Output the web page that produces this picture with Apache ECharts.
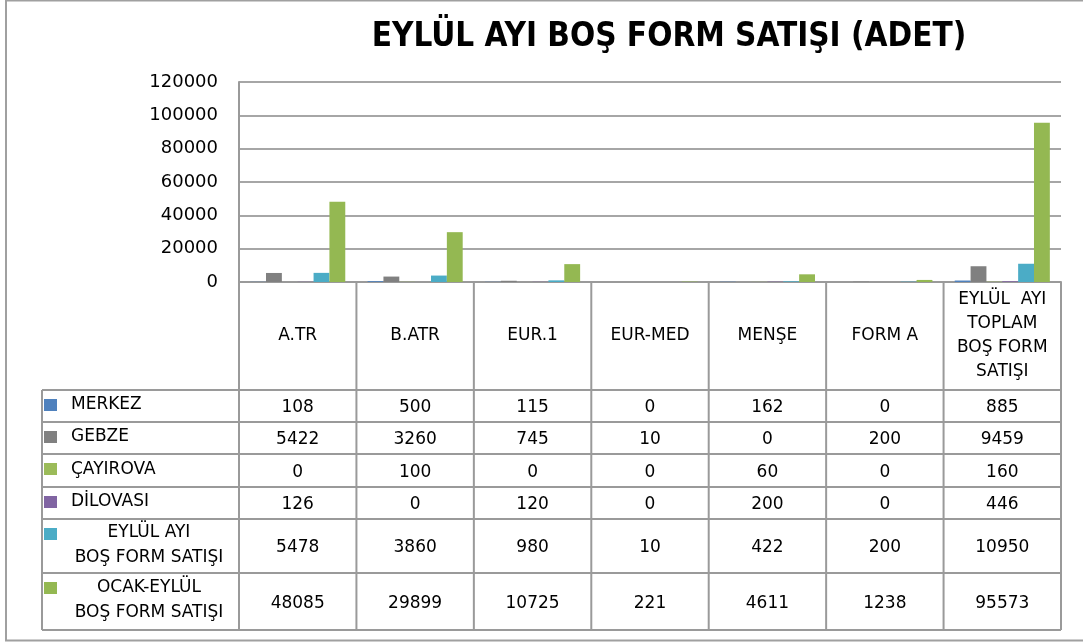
<!DOCTYPE html>
<html>
<head>
<meta charset="utf-8">
<script src="https://cdn.jsdelivr.net/npm/echarts@6/dist/echarts.min.js"></script>
<style>
html,body{margin:0;padding:0;background:#fff;}
#chart{width:1083px;height:643px;}
</style>
</head>
<body>
<div id="chart"></div>
<script>
// ---- data ----
var title = 'EYLÜL AYI BOŞ FORM SATIŞI (ADET)';
var categories = ['A.TR', 'B.ATR', 'EUR.1', 'EUR-MED', 'MENŞE', 'FORM A', 'EYLÜL  AYI\nTOPLAM\nBOŞ FORM\nSATIŞI'];
var seriesNames = ['MERKEZ', 'GEBZE', 'ÇAYIROVA', 'DİLOVASI', 'EYLÜL AYI\nBOŞ FORM SATIŞI', 'OCAK-EYLÜL\nBOŞ FORM SATIŞI'];
var merkez    = [108, 500, 115, 0, 162, 0, 885];
var gebze     = [5422, 3260, 745, 10, 0, 200, 9459];
var cayirova  = [0, 100, 0, 0, 60, 0, 160];
var dilovasi  = [126, 0, 120, 0, 200, 0, 446];
var eylulAyi  = [5478, 3860, 980, 10, 422, 200, 10950];
var ocakEylul = [48085, 29899, 10725, 221, 4611, 1238, 95573];
var yTicks = [0, 20000, 40000, 60000, 80000, 100000, 120000];

// ---- style / layout ----
var colors = ['#4F81BD', '#808080', '#9BBB59', '#8064A2', '#4BACC6', '#94B852'];
var seriesValues = [merkez, gebze, cayirova, dilovasi, eylulAyi, ocakEylul];
var FONT = '"DejaVu Sans", Verdana, sans-serif';
var gridL = 239, gridR = 1061, gridT = 82, gridB = 282;
var tableL = 42;
var rowEdges = [390, 422, 454, 487, 519, 573, 630];
var lineColor = '#9a9a9a';

(function () {
  var chart = echarts.init(document.getElementById('chart'), null, {renderer: 'canvas'});
  var children = [];
  children.push({type: 'rect', shape: {x: 6, y: 0.5, width: 1100, height: 640}, style: {fill: null, stroke: '#a0a0a0', lineWidth: 2}, silent: true});

  var nCat = categories.length;
  var colW = (gridR - gridL) / nCat;
  var lastY = rowEdges[rowEdges.length - 1];
  for (var c = 0; c <= nCat; c++) {
    var lx = gridL + c * colW;
    children.push({type: 'line', shape: {x1: lx, y1: gridB, x2: lx, y2: lastY}, style: {stroke: lineColor, lineWidth: 2}, silent: true});
  }
  children.push({type: 'line', shape: {x1: tableL, y1: rowEdges[0], x2: tableL, y2: lastY}, style: {stroke: lineColor, lineWidth: 2}, silent: true});
  for (var r = 0; r < rowEdges.length; r++) {
    children.push({type: 'line', shape: {x1: tableL, y1: rowEdges[r], x2: gridR, y2: rowEdges[r]}, style: {stroke: lineColor, lineWidth: 2}, silent: true});
  }
  for (var s = 0; s < seriesNames.length; s++) {
    var rowTop = rowEdges[s], rowBot = rowEdges[s + 1], rowMid = (rowTop + rowBot) / 2;
    var twoLine = seriesNames[s].indexOf('\n') >= 0;
    children.push({type: 'rect', shape: {x: 44, y: rowTop + 9, width: 13, height: 12}, style: {fill: colors[s]}, silent: true});
    if (twoLine) {
      children.push({type: 'text', x: 149, y: rowMid - 1, style: {text: seriesNames[s], align: 'center', verticalAlign: 'middle', fontSize: 17, fontFamily: FONT, lineHeight: 25, fill: '#000'}, silent: true});
    } else {
      children.push({type: 'text', x: 71, y: rowMid - 1, style: {text: seriesNames[s], align: 'left', verticalAlign: 'middle', fontSize: 17, fontFamily: FONT, fill: '#000'}, silent: true});
    }
    for (var c2 = 0; c2 < nCat; c2++) {
      children.push({type: 'text', x: gridL + (c2 + 0.5) * colW, y: rowMid + 2, style: {text: String(seriesValues[s][c2]), align: 'center', verticalAlign: 'middle', fontSize: 17, fontFamily: FONT, fill: '#000'}, silent: true});
    }
  }

  var series = seriesNames.map(function (n, i) {
    return {
      name: n, type: 'bar', data: seriesValues[i],
      barGap: '0%', barCategoryGap: '19%',
      itemStyle: {color: colors[i]},
      silent: true
    };
  });

  chart.setOption({
    animation: false,
    backgroundColor: '#fff',
    title: {
      text: title, left: 664, top: 16, textAlign: 'center',
      textStyle: {fontFamily: '"Liberation Sans Narrow", "DejaVu Sans Condensed", sans-serif', fontWeight: 'bold', fontSize: 33, color: '#000'}
    },
    grid: {left: gridL, right: 1083 - gridR, top: gridT, bottom: 643 - gridB, containLabel: false},
    xAxis: {
      type: 'category', data: categories,
      axisLine: {show: true, lineStyle: {color: lineColor, width: 2}},
      axisTick: {show: false},
      axisLabel: {interval: 0, margin: 54, verticalAlign: 'middle', lineHeight: 24, fontSize: 17, fontFamily: FONT, color: '#000'}
    },
    yAxis: {
      type: 'value', min: yTicks[0], max: yTicks[yTicks.length - 1], interval: yTicks[1] - yTicks[0],
      axisLine: {show: true, lineStyle: {color: lineColor, width: 2}},
      axisTick: {show: false},
      axisLabel: {margin: 21, fontSize: 18, fontFamily: FONT, color: '#000', formatter: function (v) { return String(v); }},
      splitLine: {show: true, lineStyle: {color: '#a6a6a6', width: 2}}
    },
    series: series,
    graphic: [{type: 'group', left: 0, top: 0, bounding: 'raw', z: 10, children: children}]
  });
})();
</script>
</body>
</html>
